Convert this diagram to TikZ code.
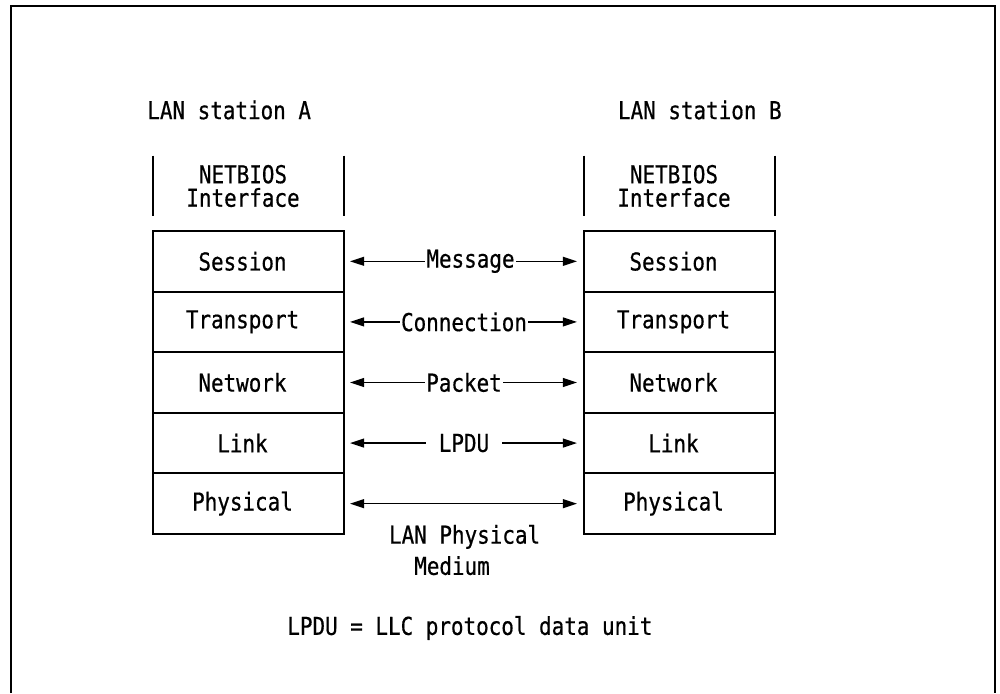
\documentclass[tikz,border=0pt]{standalone}
\usepackage{fontspec}
\newfontfamily\ibmfont[FakeStretch=0.85,FakeBold=0.6]{DejaVu Sans Mono}
\usetikzlibrary{
    arrows.meta,
    positioning
}
\tikzset{
  txt/.style    = {font=\ibmfont\fontsize{14pt}{13.4pt}\selectfont, inner sep=0pt},
  layer/.style  = {draw, line width=1.1pt, minimum width=3.82cm,
                   minimum height=1.212cm, outer sep=0pt, txt,
                   execute at end node={\hspace*{0.24cm}}},
  iface/.style  = {txt, align=center, minimum height=1.2cm},
  bar/.style    = {line width=1.1pt},
  arr/.style    = {{Triangle[length=8pt,width=5pt]}-{Triangle[length=8pt,width=5pt]},
                   line width=0.9pt, shorten <=0.12cm, shorten >=0.14cm},
  lbl/.style    = {txt, fill=white, inner xsep=0.6pt, inner ysep=2pt},
  frame/.style  = {line width=1.6pt}
}

\begin{document}
\frenchspacing
\begin{tikzpicture}[x=0.02cm, y=-0.02cm]
  \useasboundingbox (0,0) rectangle (1000,693);

  %% -- Frame (open at the bottom) ------------------------------
  \draw[frame] (11,693) -- (11,6) -- (995,6) -- (995,693);

  %% -- Station titles ------------------------------------------
  \node[txt, anchor=west] (staA) at (147,110) {LAN station A};
  \node[txt, anchor=east] (staB) at (782,110) {LAN station B};

  %% -- Layer stack, station A ----------------------------------
  \node[layer] (sesA) at (248.5,261.3) {Session};
  \node[layer, below=0pt of sesA] (traA) {Transport};
  \node[layer, below=0pt of traA] (netA) {Network};
  \node[layer, below=0pt of netA] (linA) {Link};
  \node[layer, below=0pt of linA] (phyA) {Physical};

  %% -- Layer stack, station B ----------------------------------
  \node[layer] (sesB) at (679.5,261.3) {Session};
  \node[layer, below=0pt of sesB] (traB) {Transport};
  \node[layer, below=0pt of traB] (netB) {Network};
  \node[layer, below=0pt of netB] (linB) {Link};
  \node[layer, below=0pt of linB] (phyB) {Physical};

  %% -- NETBIOS interface ---------------------------------------
  \node[iface] (nbA) at (243,186) {NETBIOS\\Interface};
  \node[iface] (nbB) at (674,186) {NETBIOS\\Interface};
  \draw[bar] (nbA.north -| sesA.west) -- (nbA.south -| sesA.west);
  \draw[bar] (nbA.north -| sesA.east) -- (nbA.south -| sesA.east);
  \draw[bar] (nbB.north -| sesB.west) -- (nbB.south -| sesB.west);
  \draw[bar] (nbB.north -| sesB.east) -- (nbB.south -| sesB.east);

  %% -- Peer protocols ------------------------------------------
  \draw[arr] (sesA.east) -- node[lbl, xshift=0.13cm] (msg) {Message} (sesB.west);
  \draw[arr] (traA.east) -- node[lbl] (con) {Connection} (traB.west);
  \draw[arr] (netA.east) -- node[lbl] (pkt) {Packet} (netB.west);
  \draw[arr] (linA.east) -- node[lbl, inner xsep=7.5pt] (pdu) {LPDU} (linB.west);
  \draw[arr] (phyA.east) -- (phyB.west);

  \node[txt, align=left] (medium) at (464.6,550)
    {LAN Physical\\[3.2pt]\phantom{LA}Medium};

  %% -- Legend --------------------------------------------------
  \node[txt, anchor=west] (note) at (287,628) {LPDU = LLC protocol data unit};

\end{tikzpicture}
\end{document}
